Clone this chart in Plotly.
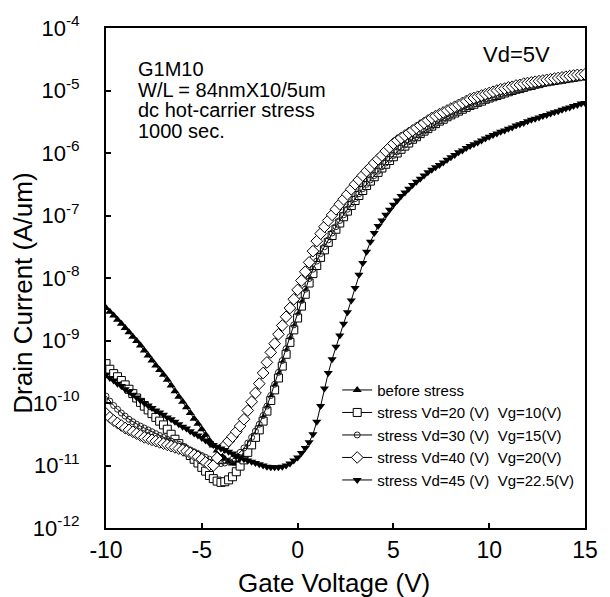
import numpy as np
import plotly.graph_objects as go

# Gate voltage sweep (V): -10 V to 15 V in 0.2 V steps
gate_voltage = np.linspace(-10, 15, 126)

# log10 of drain current (A/um)
log_before = [
    -8.48, -8.54, -8.60, -8.67, -8.73,
    -8.80, -8.87, -8.94, -9.01, -9.08,
    -9.16, -9.24, -9.32, -9.40, -9.47,
    -9.55, -9.63, -9.72, -9.81, -9.90,
    -9.98, -10.07, -10.16, -10.25, -10.33,
    -10.42, -10.51, -10.60, -10.68, -10.76,
    -10.83, -10.89, -10.94, -10.97, -10.97,
    -10.93, -10.85, -10.75, -10.64, -10.52,
    -10.39, -10.24, -10.08, -9.91, -9.73,
    -9.55, -9.36, -9.17, -8.98, -8.78,
    -8.59, -8.40, -8.21, -8.04, -7.89,
    -7.77, -7.64, -7.52, -7.41, -7.30,
    -7.20, -7.10, -7.01, -6.92, -6.83,
    -6.75, -6.67, -6.59, -6.51, -6.44,
    -6.37, -6.30, -6.23, -6.17, -6.11,
    -6.05, -5.99, -5.93, -5.88, -5.83,
    -5.78, -5.74, -5.69, -5.65, -5.61,
    -5.57, -5.53, -5.49, -5.46, -5.42,
    -5.39, -5.36, -5.33, -5.30, -5.27,
    -5.24, -5.22, -5.19, -5.17, -5.14,
    -5.12, -5.10, -5.08, -5.06, -5.04,
    -5.02, -5.00, -4.98, -4.97, -4.95,
    -4.93, -4.92, -4.90, -4.89, -4.87,
    -4.86, -4.85, -4.84, -4.83, -4.82,
    -4.81, -4.80, -4.79, -4.78, -4.77,
    -4.76,
]

log_vd20 = [
    -9.37, -9.46, -9.53, -9.58, -9.64,
    -9.71, -9.78, -9.85, -9.92, -9.99,
    -10.05, -10.11, -10.17, -10.23, -10.29,
    -10.35, -10.42, -10.50, -10.58, -10.65,
    -10.72, -10.78, -10.84, -10.90, -10.96,
    -11.03, -11.09, -11.16, -11.21, -11.25,
    -11.27, -11.26, -11.23, -11.18, -11.10,
    -11.01, -10.91, -10.79, -10.67, -10.55,
    -10.43, -10.29, -10.13, -9.96, -9.79,
    -9.60, -9.41, -9.22, -9.03, -8.83,
    -8.64, -8.45, -8.26, -8.08, -7.93,
    -7.80, -7.67, -7.55, -7.43, -7.32,
    -7.22, -7.12, -7.02, -6.93, -6.84,
    -6.76, -6.68, -6.60, -6.52, -6.45,
    -6.38, -6.31, -6.24, -6.18, -6.12,
    -6.06, -6.00, -5.94, -5.89, -5.84,
    -5.78, -5.74, -5.69, -5.65, -5.61,
    -5.57, -5.53, -5.49, -5.46, -5.42,
    -5.39, -5.36, -5.33, -5.30, -5.27,
    -5.24, -5.22, -5.19, -5.17, -5.14,
    -5.12, -5.10, -5.08, -5.06, -5.04,
    -5.02, -5.00, -4.98, -4.97, -4.95,
    -4.93, -4.92, -4.90, -4.89, -4.87,
    -4.86, -4.85, -4.84, -4.83, -4.82,
    -4.81, -4.80, -4.79, -4.78, -4.77,
    -4.76,
]

log_vd30 = [
    -9.89, -9.97, -10.04, -10.10, -10.16,
    -10.21, -10.26, -10.30, -10.34, -10.37,
    -10.40, -10.43, -10.46, -10.49, -10.52,
    -10.55, -10.58, -10.61, -10.63, -10.66,
    -10.69, -10.72, -10.75, -10.78, -10.81,
    -10.84, -10.87, -10.90, -10.93, -10.96,
    -10.97, -10.96, -10.93, -10.90, -10.85,
    -10.79, -10.72, -10.64, -10.55, -10.45,
    -10.34, -10.20, -10.05, -9.88, -9.70,
    -9.51, -9.32, -9.13, -8.94, -8.75,
    -8.55, -8.36, -8.18, -8.01, -7.86,
    -7.73, -7.61, -7.50, -7.39, -7.28,
    -7.18, -7.08, -6.99, -6.90, -6.81,
    -6.73, -6.65, -6.57, -6.50, -6.43,
    -6.36, -6.29, -6.22, -6.16, -6.10,
    -6.04, -5.98, -5.92, -5.87, -5.82,
    -5.78, -5.74, -5.69, -5.65, -5.61,
    -5.57, -5.53, -5.49, -5.46, -5.42,
    -5.39, -5.36, -5.33, -5.30, -5.27,
    -5.24, -5.22, -5.19, -5.17, -5.14,
    -5.12, -5.10, -5.08, -5.06, -5.04,
    -5.02, -5.00, -4.98, -4.97, -4.95,
    -4.93, -4.92, -4.90, -4.89, -4.87,
    -4.86, -4.85, -4.84, -4.83, -4.82,
    -4.81, -4.80, -4.79, -4.78, -4.77,
    -4.76,
]

log_vd40 = [
    -10.17, -10.23, -10.28, -10.32, -10.36,
    -10.40, -10.43, -10.46, -10.49, -10.52,
    -10.55, -10.57, -10.59, -10.61, -10.63,
    -10.65, -10.67, -10.69, -10.71, -10.73,
    -10.75, -10.77, -10.80, -10.83, -10.86,
    -10.90, -10.95, -10.99, -11.00, -10.88,
    -10.74, -10.68, -10.61, -10.54, -10.46,
    -10.37, -10.26, -10.12, -9.98, -9.84,
    -9.69, -9.52, -9.35, -9.19, -9.05,
    -8.90, -8.76, -8.62, -8.48, -8.34,
    -8.19, -8.04, -7.90, -7.75, -7.57,
    -7.41, -7.29, -7.18, -7.08, -6.99,
    -6.90, -6.82, -6.74, -6.66, -6.58,
    -6.50, -6.43, -6.36, -6.29, -6.23,
    -6.16, -6.10, -6.04, -5.97, -5.91,
    -5.85, -5.80, -5.76, -5.72, -5.68,
    -5.64, -5.60, -5.56, -5.52, -5.48,
    -5.44, -5.41, -5.38, -5.35, -5.32,
    -5.29, -5.26, -5.23, -5.20, -5.17,
    -5.14, -5.12, -5.10, -5.08, -5.06,
    -5.04, -5.02, -5.00, -4.98, -4.97,
    -4.95, -4.94, -4.92, -4.91, -4.89,
    -4.88, -4.87, -4.86, -4.85, -4.84,
    -4.83, -4.82, -4.81, -4.80, -4.79,
    -4.78, -4.77, -4.76, -4.75, -4.75,
    -4.74,
]

log_vd45 = [
    -9.55, -9.60, -9.64, -9.69, -9.73,
    -9.78, -9.82, -9.87, -9.91, -9.96,
    -10.00, -10.04, -10.08, -10.12, -10.15,
    -10.19, -10.23, -10.26, -10.30, -10.34,
    -10.38, -10.41, -10.45, -10.49, -10.52,
    -10.56, -10.60, -10.64, -10.67, -10.70,
    -10.73, -10.75, -10.78, -10.81, -10.85,
    -10.88, -10.90, -10.92, -10.94, -10.96,
    -10.98, -11.00, -11.02, -11.03, -11.03,
    -11.03, -11.02, -11.00, -10.97, -10.92,
    -10.87, -10.80, -10.72, -10.63, -10.50,
    -10.30, -10.05, -9.77, -9.52, -9.30,
    -9.10, -8.92, -8.73, -8.55, -8.36,
    -8.16, -7.95, -7.76, -7.58, -7.42,
    -7.28, -7.17, -7.08, -6.99, -6.91,
    -6.83, -6.76, -6.69, -6.63, -6.57,
    -6.51, -6.46, -6.41, -6.36, -6.31,
    -6.27, -6.23, -6.19, -6.15, -6.11,
    -6.07, -6.03, -5.99, -5.96, -5.92,
    -5.89, -5.86, -5.83, -5.80, -5.77,
    -5.74, -5.71, -5.69, -5.66, -5.64,
    -5.61, -5.59, -5.56, -5.54, -5.52,
    -5.49, -5.47, -5.45, -5.43, -5.41,
    -5.39, -5.37, -5.35, -5.33, -5.31,
    -5.29, -5.27, -5.25, -5.23, -5.21,
    -5.20,
]

series_names = [
    "before stress",
    "stress Vd=20 (V)\u00a0 Vg=10(V)",
    "stress Vd=30 (V)\u00a0 Vg=15(V)",
    "stress Vd=40 (V)\u00a0 Vg=20(V)",
    "stress Vd=45 (V)\u00a0 Vg=22.5(V)",
]
series_logs = [log_before, log_vd20, log_vd30, log_vd40, log_vd45]

x_tick_vals = [-10, -5, 0, 5, 10, 15]
x_tick_text = ["-10", "-5", "0", "5", "10", "15"]
y_tick_exponents = [-12, -11, -10, -9, -8, -7, -6, -5, -4]

x_title = "Gate Voltage (V)"
y_title = "Drain Current (A/um)"
info_lines = ["G1M10", "W/L = 84nmX10/5um", "dc hot-carrier stress", "1000 sec."]
bias_label = "Vd=5V"

FONT = "Arial, 'Liberation Sans', Helvetica, sans-serif"

# plot area in pixels: x 106..597, y 16..528
PL, PR, PT, PB = 106, 597, 16, 528
PW, PH = PR - PL, PB - PT

marker_styles = [
    dict(symbol="triangle-up", size=8, color="black", line=dict(width=0)),
    dict(symbol="square", size=8, color="white", line=dict(color="black", width=1)),
    dict(symbol="circle-open", size=6, color="#222222", line=dict(width=1)),
    dict(symbol="diamond", size=9, color="white", line=dict(color="black", width=1)),
    dict(symbol="triangle-down", size=8, color="black", line=dict(width=0)),
]

fig = go.Figure()
for name, logs, mk in zip(series_names, series_logs, marker_styles):
    fig.add_trace(go.Scatter(
        x=gate_voltage,
        y=np.power(10.0, np.array(logs)),
        mode="lines+markers",
        name=name,
        line=dict(color="black", width=1),
        marker=mk,
    ))

annotations = []
for i, line in enumerate(info_lines):
    annotations.append(dict(
        x=(137 - PL) / PW, y=(PB - 58 - 21 * i) / PH, xref="paper", yref="paper",
        text=line, showarrow=False, xanchor="left", yanchor="middle",
        font=dict(family=FONT, size=20, color="black"),
    ))
annotations.append(dict(
    x=(563 - PL) / PW, y=(PB - 43) / PH, xref="paper", yref="paper",
    text=bias_label, showarrow=False, xanchor="right", yanchor="middle",
    font=dict(family=FONT, size=22, color="black"),
))
annotations.append(dict(
    x=(340 - PL) / PW, y=(PB - 584) / PH, xref="paper", yref="paper",
    text=x_title, showarrow=False, xanchor="center", yanchor="middle",
    font=dict(family=FONT, size=26, color="black"),
))
annotations.append(dict(
    x=(21 - PL) / PW, y=(PB - 288) / PH, xref="paper", yref="paper",
    text=y_title, showarrow=False, xanchor="center", yanchor="middle",
    textangle=-90,
    font=dict(family=FONT, size=26, color="black"),
))

fig.update_layout(
    width=610, height=597,
    margin=dict(l=PL, r=610 - PR, t=PT, b=597 - PB),
    paper_bgcolor="white", plot_bgcolor="white",
    font=dict(family=FONT, color="black"),
    showlegend=True,
    legend=dict(
        x=(343 - PL) / PW, y=(PB - 370) / PH, xanchor="left", yanchor="top",
        bgcolor="rgba(0,0,0,0)", borderwidth=0,
        font=dict(family=FONT, size=15, color="black"),
        tracegroupgap=0,
    ),
    annotations=annotations,
)

fig.update_xaxes(
    range=[-10, 15], tickvals=x_tick_vals, ticktext=x_tick_text,
    ticks="inside", ticklen=5, tickwidth=1.5, tickcolor="black",
    showline=True, linecolor="black", linewidth=2, mirror=True,
    showgrid=False, zeroline=False,
    tickfont=dict(family=FONT, size=23, color="black"),
)
fig.update_yaxes(
    type="log", range=[-12, -4],
    tickvals=[10.0 ** e for e in y_tick_exponents],
    ticktext=["10<sup>%d</sup>" % e for e in y_tick_exponents],
    ticks="inside", ticklen=5, tickwidth=1.5, tickcolor="black",
    showline=True, linecolor="black", linewidth=2, mirror=True,
    showgrid=False, zeroline=False,
    tickfont=dict(family=FONT, size=22, color="black"),
    ticklabelstandoff=20,
)

fig.write_html("out.html")
